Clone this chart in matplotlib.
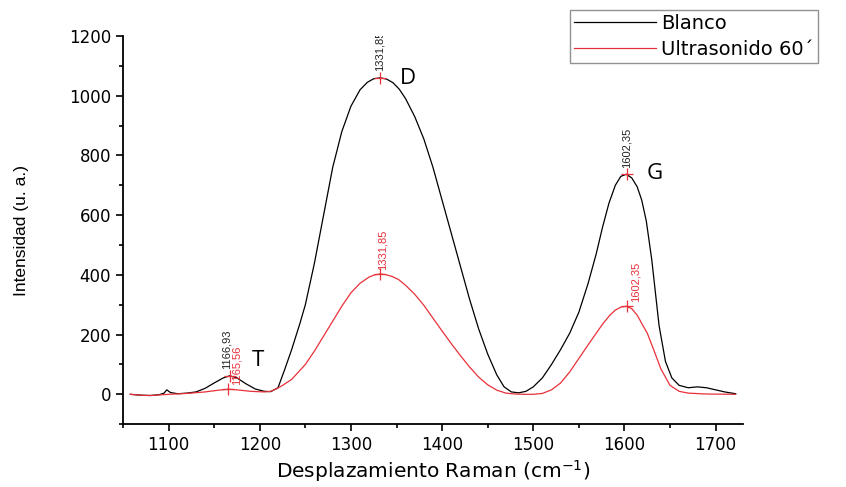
import numpy as np
import matplotlib.pyplot as plt
from matplotlib.ticker import MultipleLocator

plt.rcParams['font.family'] = ['DejaVu Sans']

# Espectro Raman - Blanco
x_blanco = [1058, 1070, 1080, 1090, 1095, 1098, 1102, 1110, 1120, 1130, 1140, 1150,
            1160, 1167, 1175, 1185, 1195, 1205, 1212, 1220, 1227, 1235, 1244, 1250,
            1260, 1270, 1280, 1290, 1300, 1310, 1318, 1325, 1332, 1339, 1346, 1353,
            1360, 1370, 1380, 1390, 1400, 1410, 1420, 1430, 1440, 1450, 1460, 1468,
            1476, 1484, 1492, 1500, 1510, 1520, 1530, 1540, 1550, 1560, 1569, 1576,
            1583, 1590, 1596, 1602, 1608, 1614, 1619, 1624, 1630, 1638, 1645, 1652,
            1660, 1670, 1680, 1690, 1700, 1710, 1722]
y_blanco = [0, -3, -4, -1, 4, 15, 6, 2, 4, 8, 20, 38,
            55, 62, 55, 35, 18, 10, 9, 22, 80, 150, 237, 300,
            440, 600, 760, 880, 965, 1020, 1045, 1057, 1060, 1056, 1044, 1022,
            990, 930, 855, 760, 650, 540, 430, 320, 220, 135, 65, 25,
            8, 5, 10, 25, 55, 100, 150, 205, 275, 370, 470, 560,
            640, 700, 730, 737, 725, 695, 650, 580, 450, 230, 110, 55,
            30, 22, 25, 22, 15, 8, 2]

# Espectro Raman - Ultrasonido 60'
x_ultra = [1058, 1070, 1080, 1090, 1100, 1120, 1140, 1155, 1166, 1175, 1190, 1205,
           1212, 1218, 1225, 1235, 1244, 1250, 1260, 1270, 1280, 1290, 1300, 1310,
           1320, 1326, 1332, 1338, 1345, 1352, 1360, 1370, 1380, 1390, 1400, 1410,
           1420, 1430, 1440, 1450, 1460, 1470, 1480, 1490, 1500, 1510, 1520, 1530,
           1540, 1550, 1560, 1568, 1576, 1584, 1590, 1596, 1602, 1608, 1614, 1620,
           1625, 1632, 1640, 1650, 1660, 1670, 1690, 1722]
y_ultra = [0, -3, -4, -2, 0, 3, 8, 14, 17, 15, 10, 8,
           10, 18, 30, 50, 80, 100, 145, 195, 245, 295, 340, 372,
           393, 400, 403, 401, 395, 385, 365, 335, 298, 255, 212, 170,
           130, 92, 58, 32, 14, 4, 1, 0, 0, 3, 15, 38,
           75, 120, 165, 200, 235, 265, 282, 292, 295, 287, 265, 232,
           205, 150, 85, 30, 10, 4, 1, 0]

picos_blanco = [1166.93, 1331.85, 1602.35]
alturas_blanco = [62, 1060, 737]
etiquetas_blanco = ["1166,93", "1331,85", "1602,35"]

picos_ultra = [1165.56, 1331.85, 1602.35]
alturas_ultra = [17, 403, 295]
etiquetas_ultra = ["1165,56", "1331,85", "1602,35"]

bandas = ["T", "D", "G"]
bandas_x = [1198, 1362, 1633]
bandas_y = [113, 1057, 740]

rojo = '#e8303a'

fig = plt.figure(figsize=(8.46, 4.87), dpi=100)
ax = fig.add_axes([0.1454, 0.129, 0.7328, 0.797])

ax.plot(x_blanco, y_blanco, color='black', linewidth=0.9, label='Blanco')
ax.plot(x_ultra, y_ultra, color=rojo, linewidth=0.9, label='Ultrasonido 60´')

# Marcadores y etiquetas de los picos
ax.plot(picos_blanco, alturas_blanco, '+', color=rojo, markersize=9, markeredgewidth=0.9)
ax.plot(picos_ultra, alturas_ultra, '+', color=rojo, markersize=9, markeredgewidth=0.9)
offs_b = [-3, 0, 0]
for xp, yp, t, o in zip(picos_blanco, alturas_blanco, etiquetas_blanco, offs_b):
    ax.text(xp + o, yp + 22, t, rotation=90, ha='center', va='bottom',
            fontsize=8, family='Liberation Sans', color='#222222', clip_on=True)
offs_u = [9, 3, 10]
for xp, yp, t, o in zip(picos_ultra, alturas_ultra, etiquetas_ultra, offs_u):
    ax.text(xp + o, yp + 15, t, rotation=90, ha='center', va='bottom',
            fontsize=8, family='Liberation Sans', color=rojo, clip_on=True)

for b, bx, by in zip(bandas, bandas_x, bandas_y):
    ax.text(bx, by, b, fontsize=16, family=['Open Sans', 'DejaVu Sans'],
            ha='center', va='center')

ax.set_xlim(1050, 1730)
ax.set_ylim(-100, 1200)
ax.xaxis.set_minor_locator(MultipleLocator(50))
ax.yaxis.set_minor_locator(MultipleLocator(100))
ax.set_xticks(range(1100, 1701, 100))
ax.set_yticks(range(0, 1201, 200))
ax.tick_params(which='major', direction='out', length=5, width=1.2, labelsize=12)
ax.tick_params(which='minor', direction='out', length=3, width=1.2)
for s in ['top', 'right']:
    ax.spines[s].set_visible(False)
for s in ['left', 'bottom']:
    ax.spines[s].set_linewidth(1.3)

ax.set_xlabel('Desplazamiento Raman (cm$^{\\mathregular{-1}}$)', fontsize=14.5)
ax.xaxis.set_label_coords(0.5, -0.088)
ax.set_ylabel('Intensidad (u. a.)', fontsize=12.5, family='Liberation Sans')
ax.yaxis.set_label_coords(-0.152, 0.5)

leg = fig.legend(loc='upper left', bbox_to_anchor=(570 / 846, 1 - 10 / 487),
                 fontsize=14, frameon=True, fancybox=False, handlelength=4.2,
                 handletextpad=0.3, borderpad=0.2, labelspacing=0.35,
                 borderaxespad=0)
leg.get_frame().set_edgecolor('#777777')
leg.get_frame().set_linewidth(1.0)

fig.savefig('out.png', dpi=100)
